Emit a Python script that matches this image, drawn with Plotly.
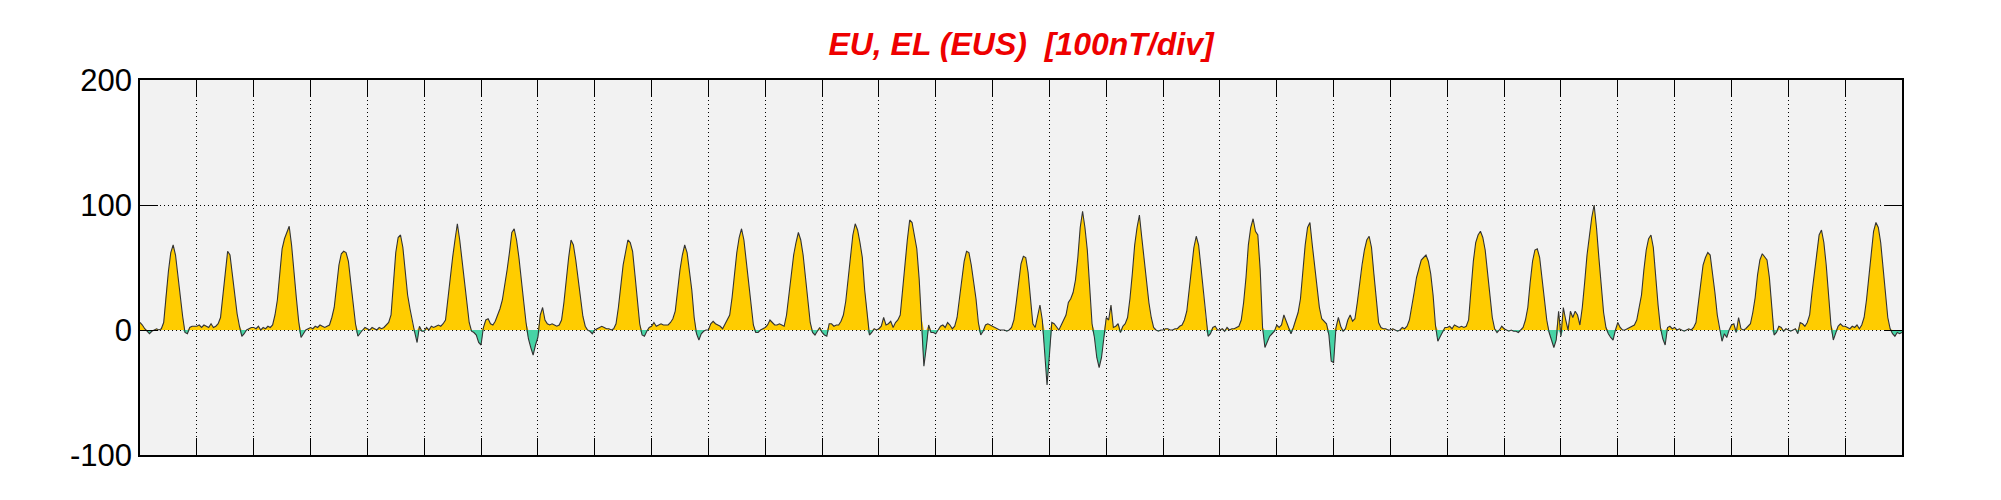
import plotly.graph_objects as go

# Hourly values (nT), one list per day (31 days)
day01 = [6, 4, 1, -1, -3, -1, 0, 1, 0, 1, 6, 30, 47, 62, 68, 60, 43, 24, 11, -2, -3, 2, 3, 3]
day02 = [3, 4, 2, 4, 3, 2, 5, 2, 3, 5, 10, 28, 50, 63, 60, 45, 29, 13, 3, -5, -3, 0, 1, 2]
day03 = [2, 1, 3, 0, 2, 1, 3, 2, 4, 12, 24, 42, 65, 73, 78, 83, 68, 45, 26, 7, -6, -3, 0, 1]
day04 = [2, 1, 3, 2, 4, 3, 2, 3, 4, 10, 18, 35, 52, 61, 63, 62, 55, 38, 22, 5, -5, -2, 0, 2]
day05 = [1, 0, 2, 1, 0, 2, 1, 2, 4, 6, 12, 38, 62, 74, 76, 66, 48, 28, 17, 6, -2, -10, 3, -1]
day06 = [-1, 2, 0, 3, 2, 3, 4, 3, 5, 8, 26, 45, 58, 72, 85, 72, 56, 38, 20, 6, -1, -2, -4, -10]
day07 = [-12, 2, 8, 9, 5, 4, 7, 12, 17, 24, 35, 48, 62, 78, 81, 72, 58, 38, 23, 6, -7, -14, -20, -12]
day08 = [-6, 12, 18, 8, 5, 4, 5, 4, 3, 4, 8, 22, 42, 58, 72, 68, 56, 40, 26, 11, 3, 0, -1, -3]
day09 = [0, 1, 2, 3, 2, 1, 1, 0, 1, 5, 18, 38, 52, 62, 72, 70, 63, 44, 22, 5, -4, -5, -1, 2]
day10 = [3, 6, 3, 4, 5, 4, 4, 4, 6, 9, 15, 32, 48, 60, 68, 62, 48, 32, 10, -3, -8, -3, -1, 0]
day11 = [0, 5, 7, 5, 4, 3, 1, 5, 9, 12, 26, 45, 62, 74, 81, 72, 55, 37, 19, 4, -2, -2, 0, 1]
day12 = [2, 4, 8, 6, 4, 4, 5, 4, 3, 12, 28, 48, 60, 70, 78, 72, 60, 42, 22, 6, -2, -4, -1, 2]
day13 = [-2, -4, -5, 5, 5, 3, 4, 4, 7, 12, 23, 40, 60, 76, 85, 80, 70, 58, 32, 14, -4, -2, 1, 0]
day14 = [1, 3, 10, 4, 5, 7, 2, 6, 8, 12, 30, 52, 72, 88, 86, 74, 65, 41, 10, -29, -14, 4, -2, -2]
day15 = [-3, 0, 3, 4, 2, 6, 4, 1, 3, 10, 24, 42, 55, 63, 62, 52, 40, 25, 6, -4, -1, 4, 5, 4]
day16 = [3, 2, 1, 0, 0, 0, -1, 0, 2, 8, 22, 40, 53, 59, 58, 46, 25, 5, 2, 10, 20, 8, -15, -44]
day17 = [-20, 6, 5, 2, 0, 4, 8, 12, 22, 25, 30, 40, 58, 82, 95, 82, 64, 38, 5, -6, -22, -30, -22, -6]
day18 = [10, 8, 20, 2, 3, 5, -2, 3, 5, 10, 25, 45, 68, 82, 92, 74, 56, 38, 22, 10, 2, 0, -1, 0]
day19 = [0, 1, 1, 0, 0, 1, 1, 3, 4, 8, 15, 32, 52, 66, 75, 68, 50, 30, 10, -5, -3, 2, 3, 0]
day20 = [0, 1, -1, 2, 0, 1, 1, 2, 3, 8, 22, 42, 68, 82, 89, 79, 76, 48, 2, -14, -10, -5, -3, -1]
day21 = [4, 2, 4, 12, 7, 2, -3, 2, 9, 14, 25, 48, 68, 82, 86, 68, 52, 35, 18, 9, 7, 5, -4, -25]
day22 = [-26, 2, 10, 3, -1, 1, 8, 12, 7, 9, 22, 38, 52, 64, 72, 75, 66, 45, 22, 6, 2, 1, 1, 0]
day23 = [0, 1, 0, -1, 0, 2, 1, 3, 8, 18, 30, 42, 50, 56, 58, 60, 55, 45, 28, 4, -9, -5, -2, 2]
day24 = [2, 3, 1, 4, 3, 2, 3, 2, 3, 8, 32, 55, 70, 76, 79, 74, 64, 48, 28, 10, 1, -2, 0, 3]
day25 = [1, 0, -1, 0, -1, -1, -2, 0, 2, 8, 18, 38, 55, 64, 65, 58, 42, 25, 8, -2, -9, -14, -8, 15]
day26 = [-5, 18, 8, 0, 15, 10, 15, 12, 4, 18, 38, 60, 75, 90, 100, 82, 58, 35, 14, 2, -3, -6, -8, 0]
day27 = [6, 2, 0, 0, 1, 2, 3, 4, 8, 18, 28, 48, 64, 73, 76, 66, 40, 20, 2, -7, -12, 2, 3, 1]
day28 = [2, 0, 1, 0, -1, 0, 1, 0, 2, 6, 22, 38, 52, 58, 62, 60, 46, 30, 12, 0, -9, -3, -6, 0]
day29 = [4, 5, -2, 10, 1, 0, 1, 3, 5, 14, 26, 44, 56, 61, 58, 56, 42, 20, -4, -2, 3, 2, -1, 1]
day30 = [0, -1, 0, 1, -3, 6, 5, 3, 6, 12, 30, 45, 62, 76, 80, 70, 52, 30, 4, -8, -2, 3, 5, 3]
day31 = [3, 2, 1, 3, 2, 4, 1, 4, 10, 24, 42, 65, 79, 86, 82, 70, 50, 30, 10, 1, -3, -5, -2, -3]
final_value = [-2]

y_tick_values = [-100, 0, 100, 200]
y_tick_labels = ["-100", "0", "100", "200"]
title_text = "EU, EL (EUS)\u00a0 [100nT/div]"

days = [day01, day02, day03, day04, day05, day06, day07, day08, day09, day10,
        day11, day12, day13, day14, day15, day16, day17, day18, day19, day20,
        day21, day22, day23, day24, day25, day26, day27, day28, day29, day30, day31]

values = [v for d in days for v in d] + final_value
x = [i / 24 for i in range(len(values))]
pos = [max(v, 0) for v in values]
neg = [min(v, 0) for v in values]

fig = go.Figure()
fig.add_trace(go.Scatter(x=x, y=pos, mode="lines", fill="tozeroy",
                         fillcolor="#FFCC00", line=dict(width=0, color="#FFCC00"),
                         hoverinfo="skip", showlegend=False))
fig.add_trace(go.Scatter(x=x, y=neg, mode="lines", fill="tozeroy",
                         fillcolor="#46D4A6", line=dict(width=0, color="#46D4A6"),
                         hoverinfo="skip", showlegend=False))
fig.add_trace(go.Scatter(x=x, y=values, mode="lines",
                         line=dict(color="#333333", width=1.1),
                         showlegend=False))

fig.update_layout(
    width=2001, height=500,
    margin=dict(l=140, r=99, t=80, b=45, pad=0),
    paper_bgcolor="white",
    plot_bgcolor="#F2F2F2",
    title=dict(text=title_text, x=0.5, xref="paper", xanchor="center",
               y=1 - 44 / 500, yref="container", yanchor="middle",
               font=dict(family="Liberation Sans, Arial, sans-serif", size=32,
                         color="#EE0000", weight="bold", style="italic")),
    xaxis=dict(range=[0, 31], tickmode="linear", tick0=0, dtick=1,
               showticklabels=False, ticks="inside", ticklen=17,
               tickcolor="black", tickwidth=1,
               showgrid=True, gridcolor="black", gridwidth=1, griddash="1px,3px",
               showline=True, linecolor="black", linewidth=1.5, mirror="ticks",
               zeroline=False),
    yaxis=dict(range=[-100, 200], tickmode="array", tickvals=y_tick_values,
               ticktext=y_tick_labels, ticks="inside", ticklen=18,
               tickcolor="black", tickwidth=1,
               showgrid=True, gridcolor="black", gridwidth=1, griddash="1px,3px",
               showline=True, linecolor="black", linewidth=1.5, mirror="ticks",
               zeroline=False,
               tickfont=dict(family="Liberation Sans, Arial, sans-serif",
                             size=31, color="black")),
)

fig.write_html("out.html", config={"displayModeBar": False},
               post_script="document.body.style.margin='0';document.body.style.overflow='hidden';")
